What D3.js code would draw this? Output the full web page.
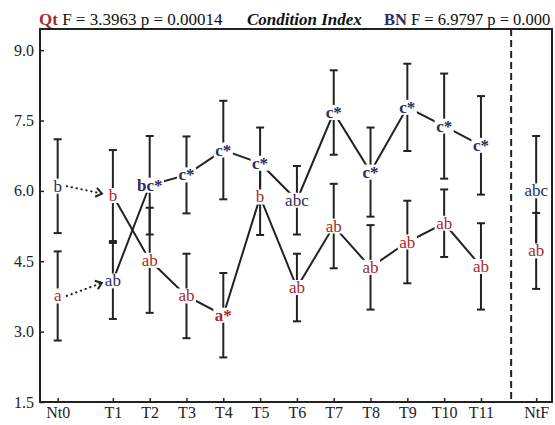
<!DOCTYPE html>
<html>
<head>
<meta charset="utf-8">
<script src="https://cdn.jsdelivr.net/npm/d3@7"></script>
<style>
  body { margin: 0; background: #fff; }
  svg { font-family: "Liberation Serif", "DejaVu Serif", serif; }
</style>
</head>
<body>
<div id="chart"></div>
<script>
// categories and their x positions (Nt0 / NtF sit apart from the T series)
const categories = ["Nt0", "T1", "T2", "T3", "T4", "T5", "T6", "T7", "T8", "T9", "T10", "T11", "NtF"];
const positions = [-0.5, 1, 2, 3, 4, 5, 6, 7, 8, 9, 10, 11, 12.5];

// Qt series (red)
const qtMean = [3.76, 5.90, 4.52, 3.76, 3.35, 5.87, 3.94, 5.25, 4.37, 4.91, 5.31, 4.39, 4.72];
const qtErr = [0.95, 0.97, 1.12, 0.90, 0.90, 0.81, 0.72, 0.90, 0.90, 0.88, 0.72, 0.92, 0.81];
const qtLabels = ["a", "b", "ab", "ab", "a*", "b", "ab", "ab", "ab", "ab", "ab", "ab", "ab"];

// BN series (navy)
const bnMean = [6.10, 4.08, 6.12, 6.34, 6.87, 6.59, 5.80, 7.67, 6.40, 7.78, 7.38, 6.97, 6.00];
const bnErr = [1.00, 0.81, 1.05, 0.82, 1.05, 0.76, 0.73, 0.90, 0.95, 0.93, 1.12, 1.05, 1.17];
const bnLabels = ["b", "ab", "bc*", "c*", "c*", "c*", "abc", "c*", "c*", "c*", "c*", "c*", "abc"];

const yTicks = [1.5, 3.0, 4.5, 6.0, 7.5, 9.0];
const dividerAt = 11.82;

const width = 555, height = 425;
const margin = { top: 29, right: 3, bottom: 23, left: 40 };

const red = "#a32b2b", navy = "#2b2d5c", ink = "#222";
const serif = "Liberation Serif";

const svg = d3.select("#chart").append("svg")
    .attr("width", width)
    .attr("height", height)
    .attr("font-family", serif);

const x = d3.scaleLinear()
    .domain([-0.98, 12.93])
    .range([margin.left, width - margin.right]);

const y = d3.scaleLinear()
    .domain([1.5, 9.45])
    .range([height - margin.bottom, margin.top]);

// axes
const xAxis = svg.append("g")
    .attr("transform", `translate(0,${height - margin.bottom})`)
    .call(d3.axisBottom(x).tickValues(positions)
        .tickFormat((d, i) => categories[i])
        .tickSizeInner(-4).tickSizeOuter(0).tickPadding(5));

const yAxis = svg.append("g")
    .attr("transform", `translate(${margin.left},0)`)
    .call(d3.axisLeft(y).tickValues(yTicks)
        .tickFormat(d3.format(".1f"))
        .tickSizeInner(-4).tickSizeOuter(0).tickPadding(6));

[xAxis, yAxis].forEach(g => {
    g.attr("font-family", serif).attr("font-size", 16);
    g.selectAll("text").attr("fill", ink);
    g.selectAll("line").attr("stroke", ink).attr("stroke-width", 1.5);
    g.select(".domain").remove();
});

// plot frame
svg.append("rect")
    .attr("x", x.range()[0])
    .attr("y", y.range()[1])
    .attr("width", x.range()[1] - x.range()[0])
    .attr("height", y.range()[0] - y.range()[1])
    .attr("fill", "none")
    .attr("stroke", ink)
    .attr("stroke-width", 2);

// dashed divider before NtF
svg.append("line")
    .attr("x1", x(dividerAt)).attr("x2", x(dividerAt))
    .attr("y1", y.range()[1]).attr("y2", y.range()[0])
    .attr("stroke", ink)
    .attr("stroke-width", 2)
    .attr("stroke-dasharray", "7,4");

const series = [
    { mean: qtMean, err: qtErr, labels: qtLabels, color: red },
    { mean: bnMean, err: bnErr, labels: bnLabels, color: navy }
];

// error bars
const capW = 4;
series.forEach(s => {
    const g = svg.append("g").attr("stroke", ink).attr("stroke-width", 2);
    positions.forEach((p, i) => {
        const cx = x(p), top = y(s.mean[i] + s.err[i]), bot = y(s.mean[i] - s.err[i]);
        g.append("line").attr("x1", cx).attr("x2", cx).attr("y1", top).attr("y2", bot);
        g.append("line").attr("x1", cx - capW).attr("x2", cx + capW).attr("y1", top).attr("y2", top);
        g.append("line").attr("x1", cx - capW).attr("x2", cx + capW).attr("y1", bot).attr("y2", bot);
    });
});

// connecting lines T1..T11
const line = d3.line().x(d => x(d.p)).y(d => y(d.v));
series.forEach(s => {
    const pts = positions.map((p, i) => ({ p, v: s.mean[i] })).slice(1, 12);
    svg.append("path")
        .datum(pts)
        .attr("d", line)
        .attr("fill", "none")
        .attr("stroke", ink)
        .attr("stroke-width", 2);
});

// dotted arrows from Nt0 labels to the T1 labels
svg.append("defs").append("marker")
    .attr("id", "chev")
    .attr("viewBox", "-1 -6 9 12")
    .attr("refX", 6).attr("refY", 0)
    .attr("markerWidth", 9).attr("markerHeight", 12)
    .attr("markerUnits", "userSpaceOnUse")
    .attr("orient", "auto")
    .append("path")
    .attr("d", "M0,-4.5L6,0L0,4.5")
    .attr("fill", "none")
    .attr("stroke", ink)
    .attr("stroke-width", 2);

const arrows = [
    { from: bnMean[0], to: qtMean[1] },
    { from: qtMean[0], to: bnMean[1] }
];
arrows.forEach(a => {
    svg.append("line")
        .attr("x1", x(positions[0]) + 9).attr("y1", y(a.from))
        .attr("x2", x(positions[1]) - 11).attr("y2", y(a.to) + (a.to > a.from ? 2 : -2))
        .attr("stroke", ink)
        .attr("stroke-width", 2)
        .attr("stroke-linecap", "round")
        .attr("stroke-dasharray", "0.5,4.5")
        .attr("marker-end", "url(#chev)");
});

// letter labels with white backing
series.forEach(s => {
    positions.forEach((p, i) => {
        const lab = s.labels[i];
        const g = svg.append("g");
        const bg = g.append("rect").attr("fill", "#fff");
        const t = g.append("text")
            .attr("x", x(p))
            .attr("y", y(s.mean[i]))
            .attr("text-anchor", "middle")
            .attr("dominant-baseline", "central")
            .attr("fill", s.color)
            .attr("font-size", 17)
            .attr("font-weight", lab.includes("*") ? "bold" : "normal")
            .text(lab);
        const b = t.node().getBBox();
        bg.attr("x", b.x - 1.5).attr("y", b.y + 2)
            .attr("width", b.width + 3).attr("height", b.height - 4);
    });
});

// title row
const title = svg.append("g").attr("font-size", 17).attr("fill", "#111");
const t1 = title.append("text").attr("x", 39).attr("y", 25);
t1.append("tspan").attr("fill", red).attr("font-weight", "bold").text("Qt");
t1.append("tspan").text(" F = 3.3963 p = 0.00014");
title.append("text").attr("x", 247).attr("y", 25)
    .attr("font-weight", "bold").attr("font-style", "italic")
    .text("Condition Index");
const t3 = title.append("text").attr("x", 384).attr("y", 25).attr("font-size", 16.5);
t3.append("tspan").attr("fill", navy).attr("font-weight", "bold").text("BN");
t3.append("tspan").text(" F = 6.9797 p = 0.000");
</script>
</body>
</html>
